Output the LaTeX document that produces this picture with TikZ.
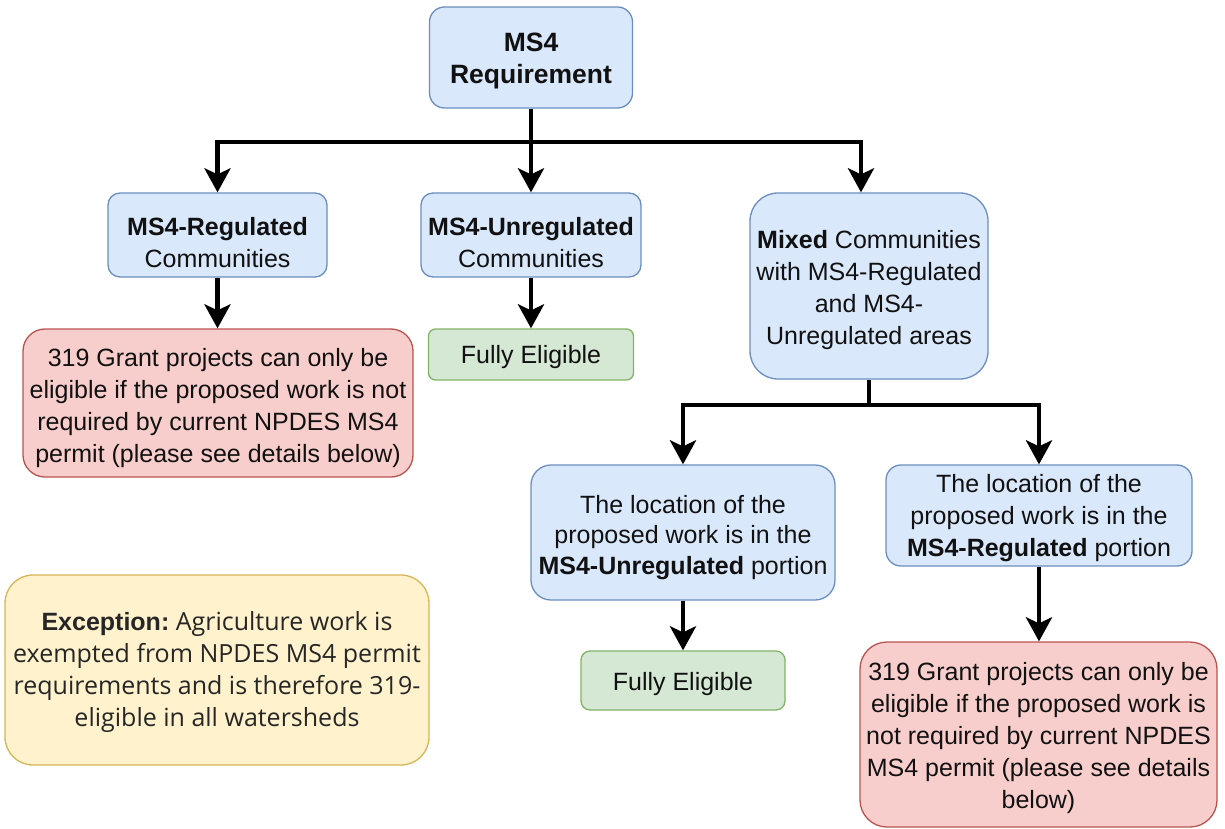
\documentclass[tikz,border=0pt]{standalone}
\usepackage{fontspec}
\setmainfont{Liberation Sans}
\newfontfamily\osfont{Open Sans}
\usetikzlibrary{arrows.meta}
\definecolor{bluef}{HTML}{DAE8FC}\definecolor{bluel}{HTML}{6C8EBF}
\definecolor{redf}{HTML}{F8CECC}\definecolor{redl}{HTML}{B85450}
\definecolor{greenf}{HTML}{D5E8D4}\definecolor{greenl}{HTML}{82B366}
\definecolor{yelf}{HTML}{FFF2CC}\definecolor{yell}{HTML}{D6B656}
\definecolor{txt}{HTML}{111111}
\tikzset{
  box/.style={draw, line width=1.3pt, inner sep=0pt},
  bluebox/.style={box, fill=bluef, draw=bluel},
  redbox/.style={box, fill=redf, draw=redl},
  greenbox/.style={box, fill=greenf, draw=greenl},
  yelbox/.style={box, fill=yelf, draw=yell},
  label text/.style={align=center, inner sep=0pt, text=txt, font=\fontsize{25}{32}\selectfont},
  conn/.style={line width=4.5pt, black},
  arr/.style={conn, -{Stealth[length=24pt, width=26pt, inset=6pt]}},
}
\begin{document}
\begin{tikzpicture}[x=1pt,y=-1pt]
\useasboundingbox (0,0) rectangle (1225,829);
% boxes
\node[bluebox, minimum width=203, minimum height=101, rounded corners=15] (req) at (531,57.5) {};
\node[bluebox, minimum width=219, minimum height=84, rounded corners=12] (reg) at (217.5,235) {};
\node[bluebox, minimum width=220, minimum height=84, rounded corners=12] (unreg) at (531,235) {};
\node[bluebox, minimum width=238, minimum height=186, rounded corners=28] (mixed) at (869,286) {};
\node[redbox, minimum width=390, minimum height=148, rounded corners=22] (red1) at (218,403) {};
\node[greenbox, minimum width=205, minimum height=51, rounded corners=7] (fe1) at (531,354.5) {};
\node[bluebox, minimum width=304, minimum height=135, rounded corners=20] (locu) at (683,532.5) {};
\node[bluebox, minimum width=306, minimum height=101, rounded corners=15] (locr) at (1039,515.5) {};
\node[yelbox, minimum width=424, minimum height=190, rounded corners=28] (exc) at (217,670) {};
\node[greenbox, minimum width=204, minimum height=59, rounded corners=9] (fe2) at (683,680.5) {};
\node[redbox, minimum width=357, minimum height=185, rounded corners=27] (red2) at (1038.5,734.5) {};
% texts
\node[label text, font=\fontsize{26.5}{32}\selectfont\bfseries] (reqt) at ([yshift=-3pt]req.center)
  {MS4\\Requirement};
\node[label text] (regt) at ([yshift=-8pt]reg.center) {\textbf{MS4-Regulated}\\Communities};
\node[label text] (unregt) at ([yshift=-8pt]unreg.center) {\textbf{MS4-Unregulated}\\Communities};
\node[label text] (mixedt) at ([yshift=-4pt]mixed.center)
  {\textbf{Mixed} Communities\\with MS4-Regulated\\and MS4-\\Unregulated areas};
\node[label text] (red1t) at ([yshift=-5pt]red1.center)
  {319 Grant projects can only be\\eligible if the proposed work is not\\required by current NPDES MS4\\permit (please see details below)};
\node[label text] (fe1t) at ([yshift=-3pt]fe1.center) {Fully Eligible};
\node[label text, font=\fontsize{25}{30.5}\selectfont] (locut) at ([yshift=-5pt]locu.center)
  {The location of the\\proposed work is in the\\\textbf{MS4-Unregulated} portion};
\node[label text] (locrt) at ([yshift=-3pt]locr.center)
  {The location of the\\proposed work is in the\\\textbf{MS4-Regulated} portion};
\node[label text, text=black!85] (exct) at ([yshift=-2pt]exc.center)
  {\textbf{Exception:}{\osfont\ Agriculture work is}\\{\osfont exempted from NPDES MS4 permit}\\{\osfont requirements and is therefore 319-}\\{\osfont eligible in all watersheds}};
\node[label text] (fe2t) at ([yshift=-4pt]fe2.center) {Fully Eligible};
\node[label text] (red2t) at ([yshift=-4pt]red2.center)
  {319 Grant projects can only be\\eligible if the proposed work is\\not required by current NPDES\\MS4 permit (please see details\\below)};
% connectors
\coordinate (j1) at (531,142);
\coordinate (j2) at (869,405);
\draw[conn] (req.south) -- (j1);
\draw[arr] (j1) -| (reg.north);
\draw[arr] (j1) -- (unreg.north);
\draw[arr] (j1) -| ([xshift=-8]mixed.north);
\draw[arr] (reg.south) -- (red1.north -| reg.south);
\draw[arr] (unreg.south) -- (fe1.north);
\draw[conn] (mixed.south) -- (j2);
\draw[arr] (j2) -| (locu.north);
\draw[arr] (j2) -| (locr.north);
\draw[arr] (locu.south) -- (fe2.north);
\draw[arr] (locr.south) -- (red2.north -| locr.south);
\end{tikzpicture}
\end{document}
